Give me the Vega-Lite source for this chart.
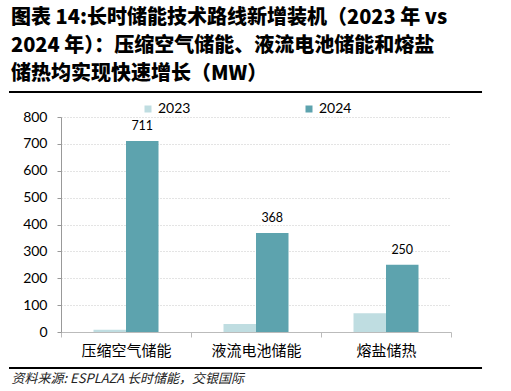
{
  "$schema": "https://vega.github.io/schema/vega-lite/v6.json",
  "width": 390,
  "height": 215,
  "padding": {"left": 8, "top": 8, "right": 10, "bottom": 5},
  "background": "white",
  "config": {
    "view": {"stroke": null},
    "axisY": {
      "title": null,
      "tickCount": 8,
      "labelFont": "Lato",
      "labelFontSize": 14,
      "labelColor": "#000000",
      "labelPadding": 10,
      "tickColor": "#999999",
      "tickSize": 4,
      "domainColor": "#999999",
      "gridColor": "#c8c8c8",
      "gridDash": [1, 2]
    }
  },
  "title": {
    "text": ["图表 14:长时储能技术路线新增装机（2023 年 vs", "2024 年）：压缩空气储能、液流电池储能和熔盐", "储热均实现快速增长（MW）"],
    "anchor": "start",
    "frame": "group",
    "dx": -50,
    "offset": 7,
    "font": "Noto Sans CJK SC",
    "fontSize": 20,
    "fontWeight": 900,
    "lineHeight": 28,
    "color": "#000000"
  },
  "data": {
    "values": [
      {"category": "压缩空气储能", "year": "2023", "value": 8},
      {"category": "压缩空气储能", "year": "2024", "value": 711},
      {"category": "液流电池储能", "year": "2023", "value": 30},
      {"category": "液流电池储能", "year": "2024", "value": 368},
      {"category": "熔盐储热", "year": "2023", "value": 70},
      {"category": "熔盐储热", "year": "2024", "value": 250}
    ]
  },
  "layer": [
    {
      "layer": [
        {
          "mark": {"type": "bar"},
          "encoding": {
            "x": {
              "field": "category",
              "type": "nominal",
              "sort": ["压缩空气储能", "液流电池储能", "熔盐储热"],
              "scale": {"paddingInner": 0, "paddingOuter": 0},
              "axis": {
                "title": "资料来源: ESPLAZA 长时储能，交银国际",
                "titleAnchor": "start",
                "titleAlign": "left",
                "titleBaseline": "middle",
                "titleX": -50,
                "titleY": 46,
                "titleFont": "Noto Sans CJK SC",
                "titleFontSize": 13,
                "titleFontStyle": "italic",
                "titleFontWeight": "normal",
                "titleColor": "#222222",
                "labelAngle": 0,
                "labelFont": "Noto Sans CJK SC",
                "labelFontSize": 15,
                "labelColor": "#000000",
                "labelPadding": 6,
                "tickBand": "extent",
                "tickColor": "#bbbbbb",
                "tickSize": 5,
                "domainColor": "#bbbbbb",
                "grid": false
              }
            },
            "xOffset": {
              "field": "year",
              "type": "nominal",
              "scale": {"paddingInner": 0, "paddingOuter": 1.03}
            },
            "y": {
              "field": "value",
              "type": "quantitative",
              "scale": {"domain": [0, 800]}
            },
            "color": {
              "field": "year",
              "type": "nominal",
              "scale": {"domain": ["2023", "2024"], "range": ["#BFDDE1", "#5DA3AE"]},
              "legend": {
                "title": null,
                "orient": "none",
                "direction": "horizontal",
                "legendX": 80,
                "legendY": -15,
                "symbolType": "square",
                "symbolSize": 49,
                "symbolStrokeWidth": 0,
                "labelFont": "Lato",
                "labelFontSize": 14,
                "labelColor": "#000000",
                "labelOffset": 3,
                "columnPadding": 111
              }
            }
          }
        },
        {
          "transform": [{"filter": "datum.year === '2024'"}],
          "mark": {"type": "text", "baseline": "bottom", "dy": -8, "font": "Lato", "fontSize": 12.5, "color": "#000000"},
          "encoding": {
            "x": {"field": "category", "type": "nominal", "sort": ["压缩空气储能", "液流电池储能", "熔盐储热"]},
            "xOffset": {"field": "year", "type": "nominal"},
            "y": {"field": "value", "type": "quantitative"},
            "text": {"field": "value", "type": "quantitative"}
          }
        }
      ]
    },
    {
      "mark": {"type": "rule", "color": "#000000", "strokeWidth": 2},
      "encoding": {
        "x": {"datum": -0.133, "type": "quantitative", "scale": {"domain": [0, 1]}, "axis": null},
        "x2": {"datum": 1.0795},
        "y": {"datum": 893, "type": "quantitative"}
      }
    },
    {
      "mark": {"type": "rule", "color": "#000000", "strokeWidth": 2},
      "encoding": {
        "x": {"datum": -0.133, "type": "quantitative", "scale": {"domain": [0, 1]}, "axis": null},
        "x2": {"datum": 1.0795},
        "y": {"datum": -134, "type": "quantitative"}
      }
    }
  ],
  "resolve": {"scale": {"x": "independent"}, "axis": {"x": "independent"}}
}
